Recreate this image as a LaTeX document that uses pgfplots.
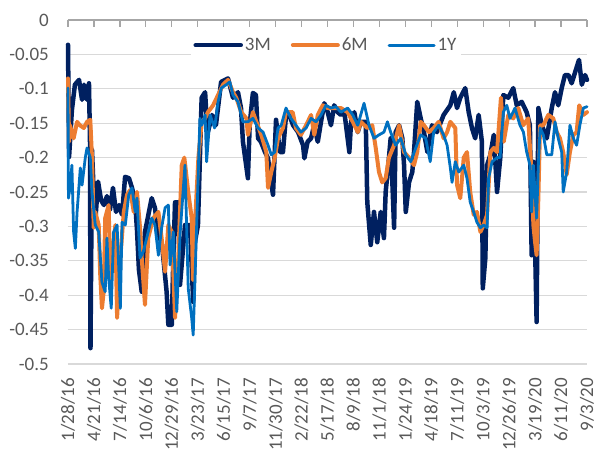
\documentclass[border=0pt]{standalone}
\usepackage{pgfplots}
\pgfplotsset{compat=1.18}
\usepackage{fontspec}
\setmainfont{Carlito}
\definecolor{cnavy}{HTML}{002060}
\definecolor{corange}{HTML}{ED7D31}
\definecolor{cblue}{HTML}{0070C0}
\definecolor{cgrid}{HTML}{D9D9D9}
\definecolor{caxis}{HTML}{A6A6A6}
\definecolor{clabel}{HTML}{595959}
\newcommand\lbl{\fontsize{19bp}{22bp}\selectfont}
\begin{document}
\begin{tikzpicture}
\begin{axis}[
  name=ax,
  scale only axis,
  width=519bp, height=344bp,
  xmin=0, xmax=240, ymin=-0.5, ymax=0,
  clip=false,
  axis line style={draw=none},
  xtick={0,12,...,240},
  xticklabels={1/28/16,4/21/16,7/14/16,10/6/16,12/29/16,3/23/17,6/15/17,9/7/17,11/30/17,2/22/18,5/17/18,8/9/18,11/1/18,1/24/19,4/18/19,7/11/19,10/3/19,12/26/19,3/19/20,6/11/20,9/3/20},
  xtick pos=left,
  xticklabel pos=left,
  xtick style={draw=none},
  ytick style={draw=none},
  ytick={-0.5,-0.45,-0.4,-0.35,-0.3,-0.25,-0.2,-0.15,-0.1,-0.05,0},
  yticklabels={-0.5,-0.45,-0.4,-0.35,-0.3,-0.25,-0.2,-0.15,-0.1,-0.05,0},
  ymajorgrids,
  grid style={draw=cgrid, line width=1.2bp},
  every tick label/.append style={font=\lbl, text=clabel},
  yticklabel style={anchor=east, inner sep=0pt, xshift=-19bp},
  xticklabel style={yshift=-14bp, rotate=90, anchor=east, inner sep=0pt},
  legend style={at={(0.497,0.927)}, anchor=center, draw=none, fill=white,
    font=\lbl, text=clabel, legend columns=3,
    /tikz/every even column/.append style={column sep=18bp}},
  legend image code/.code={\draw[#1] (0bp,0bp) -- (45bp,0bp);},
  every axis plot/.append style={line join=round, line cap=round},
]
\draw[caxis, line width=1.3bp] (axis cs:0,0) -- (axis cs:240,0);
\addplot[cnavy, line width=4.5bp] coordinates {
(0,-0.036) (0.5,-0.199) (1.8,-0.131) (3.2,-0.094) (5.1,-0.087) (6.5,-0.116) (7.4,-0.094) (8.8,-0.116) (9.7,-0.092) (10.2,-0.182) (10.4,-0.477) (11.1,-0.189) (12.5,-0.298) (13.9,-0.235) (15.3,-0.262) (16.6,-0.269) (18.0,-0.256) (19.4,-0.276) (20.8,-0.244) (22.2,-0.279) (23.6,-0.269) (25.0,-0.283) (26.4,-0.228) (28.2,-0.230) (29.6,-0.244) (31.0,-0.262) (31.9,-0.305) (32.8,-0.363) (34.1,-0.395) (35.6,-0.308) (38.7,-0.259) (40.2,-0.273) (41.6,-0.308) (43.5,-0.327) (45.6,-0.395) (46.4,-0.443) (48.0,-0.443) (48.7,-0.346) (49.5,-0.265) (51.0,-0.265) (51.8,-0.385) (54.1,-0.298) (56.4,-0.298) (57.9,-0.41) (58.7,-0.323) (60.1,-0.298) (61.0,-0.2) (61.8,-0.113) (63.4,-0.105) (64.1,-0.143) (64.7,-0.163) (66.6,-0.138) (68.4,-0.153) (70.8,-0.09) (74.0,-0.085) (76.3,-0.113) (78.6,-0.105) (80.0,-0.128) (80.9,-0.177) (83.2,-0.23) (84.0,-0.153) (85.5,-0.106) (86.9,-0.109) (87.9,-0.172) (89.2,-0.177) (91.1,-0.192) (92.5,-0.201) (93.9,-0.236) (94.8,-0.254) (96.2,-0.145) (98.0,-0.192) (99.4,-0.192) (100.7,-0.143) (101.8,-0.134) (104.1,-0.153) (106.4,-0.163) (108.7,-0.182) (109.3,-0.201) (110.8,-0.177) (112.4,-0.172) (113.8,-0.153) (115.5,-0.177) (117.0,-0.148) (118.5,-0.121) (120.1,-0.134) (121.6,-0.153) (123.1,-0.124) (124.7,-0.134) (126.2,-0.138) (127.8,-0.134) (130.1,-0.192) (130.9,-0.148) (132.4,-0.134) (134.0,-0.163) (135.4,-0.148) (137.7,-0.148) (138.4,-0.265) (140.0,-0.327) (141.5,-0.279) (143.0,-0.323) (144.6,-0.279) (146.1,-0.317) (146.9,-0.25) (148.4,-0.201) (149.2,-0.172) (150.8,-0.302) (151.5,-0.163) (153.1,-0.153) (154.6,-0.172) (155.4,-0.211) (156.2,-0.279) (157.7,-0.236) (159.2,-0.221) (160.0,-0.192) (161.5,-0.119) (163.1,-0.143) (164.6,-0.163) (166.2,-0.192) (168.3,-0.153) (170.6,-0.163) (173.7,-0.138) (176.8,-0.124) (178.4,-0.105) (179.9,-0.128) (181.4,-0.113) (183.7,-0.099) (185.3,-0.134) (186.8,-0.157) (188.3,-0.172) (189.9,-0.138) (191.4,-0.177) (191.8,-0.39) (193.0,-0.346) (193.8,-0.211) (195.3,-0.196) (196.9,-0.167) (198.4,-0.25) (199.9,-0.2) (201.3,-0.109) (203.6,-0.113) (205.9,-0.099) (207.5,-0.124) (209.8,-0.119) (212.1,-0.134) (213.6,-0.153) (214.4,-0.342) (215.2,-0.206) (216.7,-0.439) (217.5,-0.128) (219.1,-0.153) (221.4,-0.172) (223.7,-0.128) (225.2,-0.105) (226.7,-0.124) (228.3,-0.099) (229.8,-0.08) (231.4,-0.08) (232.9,-0.092) (234.5,-0.076) (236.3,-0.058) (237.6,-0.094) (239.1,-0.08) (240,-0.087)
};
\addlegendentry{3M}
\addplot[corange, line width=4bp] coordinates {
(0,-0.085) (0.5,-0.177) (0.9,-0.153) (2.6,-0.172) (4.2,-0.148) (5.5,-0.153) (7.3,-0.157) (8.8,-0.148) (10.3,-0.145) (11.1,-0.2) (11.9,-0.302) (12.6,-0.279) (14.2,-0.298) (14.9,-0.37) (15.7,-0.419) (16.5,-0.395) (17.2,-0.288) (18.8,-0.269) (19.6,-0.385) (21.1,-0.323) (21.9,-0.298) (22.7,-0.433) (24.2,-0.346) (25.8,-0.279) (27.3,-0.254) (28.8,-0.247) (30.4,-0.279) (31.9,-0.25) (33.2,-0.298) (34.1,-0.346) (35.6,-0.414) (37.1,-0.317) (39.4,-0.288) (41.8,-0.279) (43.3,-0.317) (44.9,-0.366) (46.4,-0.298) (48.0,-0.308) (49.5,-0.433) (51.0,-0.346) (52.6,-0.211) (53.8,-0.2) (55.6,-0.25) (57.2,-0.288) (57.8,-0.378) (58.7,-0.298) (60.3,-0.2) (61.8,-0.148) (63.4,-0.143) (64.7,-0.134) (67.1,-0.124) (69.4,-0.109) (71.7,-0.094) (74.0,-0.087) (76.3,-0.105) (77.8,-0.113) (80.1,-0.134) (82.5,-0.143) (83.2,-0.167) (85.5,-0.134) (87.1,-0.148) (89.4,-0.167) (91.7,-0.192) (92.5,-0.244) (94.0,-0.221) (95.6,-0.2) (97.1,-0.172) (99.4,-0.157) (100.8,-0.134) (103.9,-0.134) (105.4,-0.157) (107.7,-0.167) (110.1,-0.153) (112.4,-0.138) (113.9,-0.167) (115.5,-0.138) (117.8,-0.124) (120.1,-0.128) (123.1,-0.128) (126.2,-0.128) (129.3,-0.134) (131.7,-0.148) (134.0,-0.163) (135.4,-0.148) (138.4,-0.157) (140.7,-0.153) (142.3,-0.186) (143.8,-0.221) (145.3,-0.236) (146.9,-0.23) (148.4,-0.2) (150.8,-0.182) (153.1,-0.153) (155.4,-0.192) (157.7,-0.2) (160.0,-0.211) (161.5,-0.192) (163.1,-0.148) (164.6,-0.153) (166.9,-0.163) (169.1,-0.157) (171.4,-0.148) (173.7,-0.172) (175.3,-0.163) (176.8,-0.148) (179.1,-0.157) (179.9,-0.24) (181.4,-0.259) (183.0,-0.2) (184.5,-0.192) (186.0,-0.25) (187.6,-0.283) (189.1,-0.279) (190.7,-0.308) (192.2,-0.298) (193.8,-0.283) (195.3,-0.192) (196.9,-0.186) (198.4,-0.192) (200.2,-0.113) (201.5,-0.177) (203.6,-0.138) (205.9,-0.143) (208.2,-0.128) (210.5,-0.153) (212.8,-0.143) (214.4,-0.225) (215.2,-0.298) (216.0,-0.323) (216.7,-0.342) (217.5,-0.259) (218.3,-0.153) (219.8,-0.153) (222.1,-0.138) (224.4,-0.143) (226.0,-0.163) (227.5,-0.172) (229.0,-0.192) (230.6,-0.225) (232.1,-0.192) (233.7,-0.167) (235.2,-0.163) (236.4,-0.124) (238.3,-0.138) (240,-0.134)
};
\addlegendentry{6M}
\addplot[cblue, line width=2.8bp] coordinates {
(0,-0.099) (0.2,-0.259) (1.1,-0.24) (1.8,-0.211) (2.6,-0.308) (3.4,-0.332) (4.2,-0.279) (5.7,-0.215) (6.5,-0.24) (8.0,-0.2) (8.8,-0.186) (10.3,-0.2) (11.1,-0.25) (12.6,-0.298) (14.2,-0.308) (15.7,-0.381) (17.2,-0.395) (18.0,-0.317) (18.8,-0.375) (20.0,-0.419) (21.1,-0.308) (22.7,-0.298) (24.2,-0.419) (25.0,-0.294) (26.5,-0.298) (28.1,-0.254) (29.6,-0.244) (31.1,-0.279) (31.9,-0.259) (33.3,-0.346) (34.8,-0.337) (36.4,-0.317) (38.7,-0.288) (40.2,-0.298) (41.8,-0.342) (43.3,-0.302) (44.9,-0.273) (46.4,-0.269) (47.2,-0.356) (48.7,-0.308) (50.3,-0.424) (51.8,-0.312) (54.1,-0.211) (55.6,-0.39) (57.2,-0.433) (57.9,-0.458) (59.5,-0.298) (61.0,-0.143) (61.8,-0.153) (63.4,-0.138) (64.1,-0.206) (65.7,-0.138) (67.8,-0.157) (69.4,-0.119) (70.9,-0.099) (73.2,-0.094) (74.8,-0.09) (76.3,-0.109) (78.6,-0.119) (80.9,-0.148) (83.2,-0.148) (85.5,-0.143) (87.9,-0.157) (90.2,-0.163) (92.5,-0.182) (94.0,-0.196) (95.6,-0.192) (97.1,-0.157) (98.6,-0.153) (100.8,-0.128) (103.1,-0.143) (105.4,-0.153) (107.7,-0.163) (110.1,-0.157) (112.4,-0.143) (114.7,-0.148) (117.0,-0.138) (119.3,-0.124) (121.6,-0.128) (123.9,-0.126) (126.2,-0.134) (129.3,-0.128) (131.7,-0.138) (134.0,-0.153) (136.9,-0.121) (139.2,-0.153) (141.5,-0.172) (143.8,-0.167) (146.1,-0.163) (147.7,-0.148) (149.2,-0.163) (151.5,-0.182) (153.9,-0.172) (156.2,-0.196) (158.5,-0.206) (160.8,-0.186) (163.1,-0.167) (165.4,-0.172) (167.5,-0.206) (169.1,-0.163) (171.4,-0.153) (173.7,-0.167) (175.3,-0.182) (176.8,-0.215) (177.6,-0.236) (179.1,-0.206) (180.7,-0.221) (183.0,-0.211) (184.5,-0.23) (186.0,-0.265) (187.6,-0.279) (189.1,-0.294) (190.7,-0.302) (192.2,-0.298) (193.8,-0.302) (194.5,-0.23) (196.1,-0.206) (198.4,-0.2) (199.8,-0.2) (201.3,-0.134) (202.9,-0.124) (204.4,-0.143) (206.7,-0.128) (209.0,-0.153) (210.6,-0.163) (212.1,-0.192) (213.6,-0.211) (214.4,-0.279) (215.2,-0.211) (216.7,-0.288) (217.5,-0.211) (218.3,-0.157) (219.8,-0.167) (221.4,-0.196) (223.7,-0.196) (225.2,-0.148) (226.7,-0.172) (228.3,-0.192) (229.0,-0.25) (230.6,-0.221) (232.1,-0.153) (233.7,-0.172) (235.2,-0.182) (236.7,-0.153) (238.3,-0.128) (240,-0.126)
};
\addlegendentry{1Y}
\pgfplotsinvokeforeach{0,12,24,36,48,60,72,84,96,108,120,132,144,156,168,180,192,204,216,228,240}{
  \draw[caxis, line width=1.3bp] (axis cs:#1,0) -- (axis cs:#1,-0.010);
}
\end{axis}
\pgfresetboundingbox
\path[use as bounding box] ([xshift=-68bp,yshift=-86bp]ax.south west) rectangle ([xshift=11bp,yshift=20bp]ax.north east);
\end{tikzpicture}
\end{document}
